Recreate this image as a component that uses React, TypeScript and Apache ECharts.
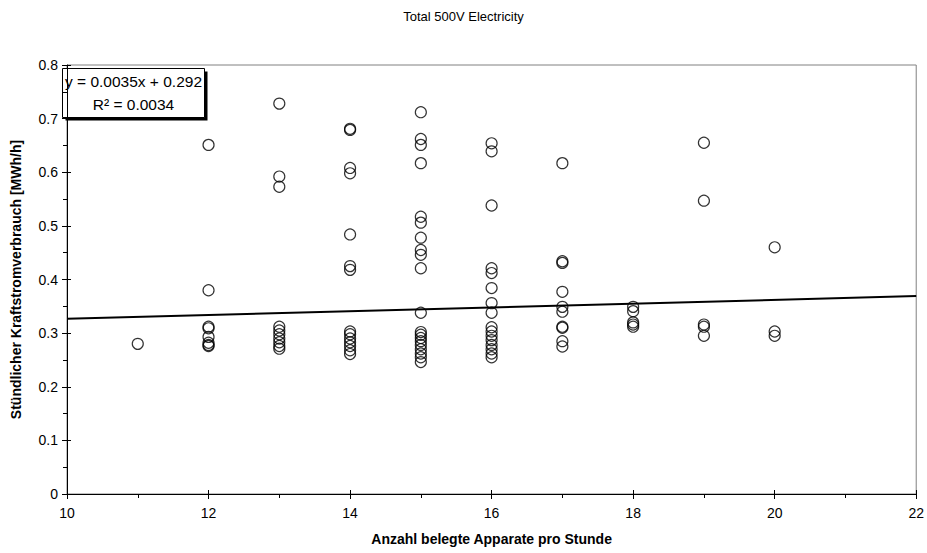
import React, { useEffect, useRef } from "react";
import * as echarts from "echarts";

// Hourly power consumption [MWh/h] grouped by number of occupied machines per hour
const verbrauch11 = [0.28];
const verbrauch12 = [0.651, 0.38, 0.312, 0.309, 0.293, 0.282, 0.278, 0.276];
const verbrauch13 = [0.728, 0.592, 0.573, 0.312, 0.305, 0.298, 0.29, 0.283, 0.276, 0.271];
const verbrauch14 = [0.681, 0.679, 0.608, 0.598, 0.484, 0.425, 0.418, 0.303, 0.298, 0.29, 0.283, 0.276, 0.268, 0.261];
const verbrauch15 = [0.712, 0.662, 0.651, 0.617, 0.517, 0.506, 0.478, 0.455, 0.446, 0.421, 0.338, 0.302, 0.297, 0.291, 0.285, 0.278, 0.27, 0.262, 0.255, 0.246];
const verbrauch16 = [0.654, 0.639, 0.538, 0.421, 0.412, 0.384, 0.356, 0.338, 0.311, 0.303, 0.295, 0.287, 0.278, 0.27, 0.262, 0.255];
const verbrauch17 = [0.617, 0.434, 0.431, 0.377, 0.349, 0.34, 0.312, 0.31, 0.285, 0.275];
const verbrauch18 = [0.349, 0.341, 0.32, 0.316, 0.312];
const verbrauch19 = [0.655, 0.547, 0.316, 0.312, 0.295];
const verbrauch20 = [0.46, 0.303, 0.295];

const apparateGruppen: [number, number[]][] = [
  [11, verbrauch11],
  [12, verbrauch12],
  [13, verbrauch13],
  [14, verbrauch14],
  [15, verbrauch15],
  [16, verbrauch16],
  [17, verbrauch17],
  [18, verbrauch18],
  [19, verbrauch19],
  [20, verbrauch20],
];

// Linear trend line
const trendSlope = 0.0035;
const trendIntercept = 0.292;
const trendR2 = 0.0034;
const trendXRange = [10, 22];

const FONT = "'Liberation Sans', Arial, sans-serif";

export default function App() {
  const ref = useRef<HTMLDivElement>(null);

  useEffect(() => {
    if (!ref.current) return;
    const chart = echarts.init(ref.current, undefined, { renderer: "svg" });

    const points: [number, number][] = [];
    apparateGruppen.forEach(([x, values]) => values.forEach((v) => points.push([x, v])));
    const trend = trendXRange.map((x) => [x, trendSlope * x + trendIntercept]);

    const axisLabelStyle = { color: "#000", fontFamily: FONT, fontSize: 14 };

    chart.setOption({
      animation: false,
      backgroundColor: "#fff",
      title: {
        text: "Total 500V Electricity",
        left: "center",
        top: 5,
        textStyle: { color: "#000", fontFamily: FONT, fontSize: 13, fontWeight: "normal" },
      },
      grid: {
        left: 67,
        right: 8,
        top: 65,
        bottom: 59,
        show: true,
        borderColor: "#808080",
        borderWidth: 1,
        backgroundColor: "transparent",
      },
      xAxis: [
        {
          type: "value",
          min: 10,
          max: 22,
          interval: 2,
          position: "bottom",
          name: "Anzahl belegte Apparate pro Stunde",
          nameLocation: "middle",
          nameGap: 38,
          nameTextStyle: { color: "#000", fontFamily: FONT, fontSize: 14, fontWeight: "bold" },
          axisLine: { show: true, onZero: false, lineStyle: { color: "#000", width: 1 } },
          axisTick: { show: true, inside: false, length: 5, lineStyle: { color: "#000" } },
          minorTick: { show: true, splitNumber: 2, length: 4, lineStyle: { color: "#000" } },
          axisLabel: { ...axisLabelStyle, margin: 12 },
          splitLine: { show: false },
        },
        {
          type: "value",
          min: 10,
          max: 22,
          interval: 2,
          position: "bottom",
          axisLine: { show: false },
          axisTick: { show: true, inside: true, length: 4, lineStyle: { color: "#000" } },
          axisLabel: { show: false },
          splitLine: { show: false },
        },
      ],
      yAxis: [
        {
          type: "value",
          min: 0,
          max: 0.8,
          interval: 0.1,
          position: "left",
          name: "Stündlicher Kraftstromverbrauch [MWh/h]",
          nameLocation: "middle",
          nameGap: 44,
          nameTextStyle: { color: "#000", fontFamily: FONT, fontSize: 14, fontWeight: "bold" },
          axisLine: { show: true, onZero: false, lineStyle: { color: "#000", width: 1 } },
          axisTick: { show: true, inside: false, length: 5, lineStyle: { color: "#000" } },
          minorTick: { show: true, splitNumber: 2, length: 4, lineStyle: { color: "#000" } },
          axisLabel: { ...axisLabelStyle, margin: 9 },
          splitLine: { show: false },
        },
        {
          type: "value",
          min: 0,
          max: 0.8,
          interval: 0.1,
          position: "left",
          axisLine: { show: false },
          axisTick: { show: true, inside: true, length: 4, lineStyle: { color: "#000" } },
          axisLabel: { show: false },
          splitLine: { show: false },
        },
      ],
      series: [
        {
          type: "scatter",
          xAxisIndex: 0,
          yAxisIndex: 0,
          data: points,
          symbol: "circle",
          symbolSize: 11,
          itemStyle: { color: "rgba(0,0,0,0)", borderColor: "#000", borderWidth: 1.2 },
          z: 3,
        },
        {
          type: "line",
          xAxisIndex: 0,
          yAxisIndex: 0,
          data: trend,
          symbol: "none",
          lineStyle: { color: "#000", width: 2 },
          z: 4,
        },
      ],
      graphic: [
        {
          type: "group",
          left: 62,
          top: 68,
          z: 10,
          children: [
            { type: "rect", shape: { x: 3, y: 3, width: 142, height: 49 }, style: { fill: "#000" } },
            {
              type: "rect",
              shape: { x: 0, y: 0, width: 142, height: 49 },
              style: { fill: "#fff", stroke: "#000", lineWidth: 1 },
            },
            {
              type: "text",
              x: 71,
              y: 13,
              style: {
                text: `y = ${trendSlope}x + ${trendIntercept}`,
                fill: "#000",
                font: `15.5px ${FONT}`,
                align: "center",
                verticalAlign: "middle",
              },
            },
            {
              type: "text",
              x: 71,
              y: 36,
              style: {
                text: `R² = ${trendR2}`,
                fill: "#000",
                font: `15.5px ${FONT}`,
                align: "center",
                verticalAlign: "middle",
              },
            },
          ],
        },
      ],
    });

    return () => chart.dispose();
  }, []);

  return (
    <div
      ref={ref}
      style={{ position: "absolute", left: 0, top: 0, width: 927, height: 553 }}
    />
  );
}
